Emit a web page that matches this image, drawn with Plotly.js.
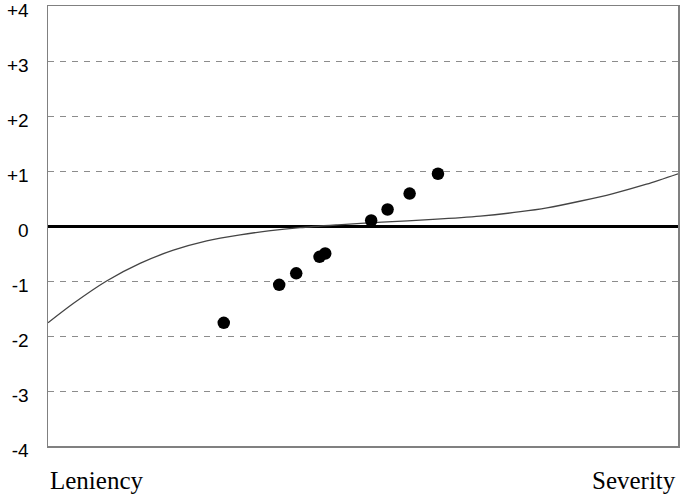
<!DOCTYPE html>
<html>
<head>
<meta charset="utf-8">
<script src="https://cdn.plot.ly/plotly-3.0.1.min.js"></script>
<style>html,body{margin:0;padding:0;background:#fff;}#chart{width:685px;height:495px;}</style>
</head>
<body>
<div id="chart"></div>
<script>
// Expected (model) curve, x positions on a 0-100 leniency→severity scale
const curveX = [0, 4, 9.3, 14.6, 19.9, 25.2, 30.5, 35, 40, 46, 53, 61.1, 68.6, 75, 79.2, 84.4, 89.7, 95, 100];
const curveY = [-1.76, -1.41, -1.00, -0.68, -0.44, -0.27, -0.16, -0.09, -0.03, 0.02, 0.07, 0.12, 0.18, 0.26, 0.33, 0.45, 0.59, 0.76, 0.95];

// Observed points
const pointX = [27.9, 36.7, 39.4, 43.1, 44.0, 51.3, 53.9, 57.4, 61.9];
const pointY = [-1.76, -1.07, -0.86, -0.56, -0.50, 0.10, 0.30, 0.59, 0.95];

// Tick labels
const yTickVals = [4, 3, 2, 1, 0, -1, -2, -3, -4];
const yTickText = ['+4', '+3', '+2', '+1', '0', '-1', '-2', '-3', '-4'];
const endLabels = ['Leniency', 'Severity'];

const traces = [
  {
    x: curveX, y: curveY, type: 'scatter', mode: 'lines',
    line: {color: '#444', width: 1.3, shape: 'spline', smoothing: 0.8},
    hoverinfo: 'skip', showlegend: false
  },
  {
    x: pointX, y: pointY, type: 'scatter', mode: 'markers',
    marker: {color: '#000', size: 12.5, symbol: 'circle'},
    showlegend: false
  }
];

const layout = {
  width: 685, height: 495,
  margin: {l: 48, r: 7, t: 6, b: 49},
  paper_bgcolor: '#fff', plot_bgcolor: '#fff',
  font: {family: 'Liberation Sans, Arial, sans-serif', color: '#000'},
  xaxis: {
    range: [0, 100], showticklabels: false, showgrid: false, zeroline: false,
    ticks: '', showline: true, linecolor: '#808080', linewidth: 1.5, mirror: true
  },
  yaxis: {
    range: [-4, 4], tickvals: yTickVals, ticktext: yTickText,
    tickfont: {family: 'Liberation Sans, Arial, sans-serif', size: 19, color: '#000'},
    ticks: '', ticklabelstandoff: 14, ticklabeloverflow: 'allow', ticklabelshift: 4,
    showgrid: true, gridcolor: '#8c8c8c', gridwidth: 1, griddash: '6px,6px',
    zeroline: true, zerolinecolor: '#000', zerolinewidth: 3,
    showline: true, linecolor: '#808080', linewidth: 1.5, mirror: true
  },
  annotations: [
    {text: endLabels[0], xref: 'paper', yref: 'paper', x: 0, y: 0, xanchor: 'left', yanchor: 'middle',
     yshift: -34, showarrow: false,
     font: {family: 'Liberation Serif, Times New Roman, serif', size: 25, color: '#000'}},
    {text: endLabels[1], xref: 'paper', yref: 'paper', x: 1, y: 0, xanchor: 'right', yanchor: 'middle',
     yshift: -34, showarrow: false,
     font: {family: 'Liberation Serif, Times New Roman, serif', size: 25, color: '#000'}}
  ]
};

Plotly.newPlot('chart', traces, layout, {displayModeBar: false, staticPlot: true});
</script>
</body>
</html>
